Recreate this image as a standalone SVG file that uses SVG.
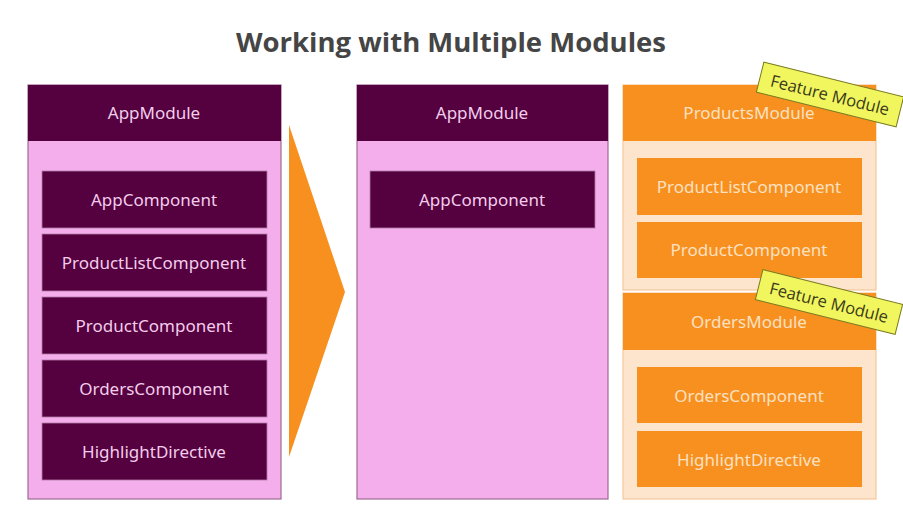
<svg xmlns="http://www.w3.org/2000/svg" width="903" height="508" viewBox="0 0 903 508">
<style>
.title{font-family:"Open Sans","DejaVu Sans",sans-serif;font-weight:700;font-size:27.5px;fill:#454545}
.panel{fill:#F4AEEC;stroke:#9C6A92;stroke-width:1.2}
.head{fill:#55003F}
.pbox{fill:#55003F;stroke:#B07AA6;stroke-width:0.8}
.ptxt{font-family:"Noto Sans","Open Sans",sans-serif;font-size:17px;fill:#F2CDEB;text-anchor:middle;dominant-baseline:central}
.fpanel{fill:#FCE4CD;stroke:#F5C89C;stroke-width:1.2}
.fhead{fill:#F7901E}
.obox{fill:#F7901E}
.otxt{font-family:"Noto Sans","Open Sans",sans-serif;font-size:17px;fill:#FCE0C2;text-anchor:middle;dominant-baseline:central}
.tag{fill:#F1F55E;stroke:#7A7A20;stroke-width:1}
.tagtxt{font-family:"Open Sans","DejaVu Sans",sans-serif;font-size:16.5px;fill:#3A3A1A;text-anchor:middle;dominant-baseline:central}
</style>
<rect width="903" height="508" fill="#FFFFFF"/>
<text class="title" x="451" y="52" text-anchor="middle">Working with Multiple Modules</text>

<g id="left-appmodule">
<rect class="panel" x="28" y="85" width="253" height="414"/>
<rect class="head" x="28" y="85" width="253" height="56"/>
<text class="ptxt" x="154" y="112">AppModule</text>
</g>
<g id="left-appcomponent"><rect class="pbox" x="42" y="171" width="225" height="57"/><text class="ptxt" x="154" y="199">AppComponent</text></g>
<g id="left-productlist"><rect class="pbox" x="42" y="234" width="225" height="57"/><text class="ptxt" x="154" y="262">ProductListComponent</text></g>
<g id="left-product"><rect class="pbox" x="42" y="297" width="225" height="57"/><text class="ptxt" x="154" y="325">ProductComponent</text></g>
<g id="left-orders"><rect class="pbox" x="42" y="360" width="225" height="57"/><text class="ptxt" x="154" y="388">OrdersComponent</text></g>
<g id="left-highlight"><rect class="pbox" x="42" y="423" width="225" height="57"/><text class="ptxt" x="154" y="451">HighlightDirective</text></g>

<g id="connectors">
<polygon points="289,125 345,292 289,457" fill="#F7901E"/>
</g>

<g id="mid-appmodule">
<rect class="panel" x="357" y="85" width="251" height="414"/>
<rect class="head" x="357" y="85" width="251" height="56"/>
<text class="ptxt" x="482" y="112">AppModule</text>
</g>
<g id="mid-appcomponent"><rect class="pbox" x="370" y="171" width="225" height="57"/><text class="ptxt" x="482" y="199">AppComponent</text></g>

<g id="productsmodule">
<rect class="fpanel" x="623" y="85" width="253" height="205"/>
<rect class="fhead" x="623" y="85" width="253" height="56"/>
<text class="otxt" x="749" y="112">ProductsModule</text>
</g>
<g id="productlistcomponent"><rect class="obox" x="637" y="158" width="225" height="57"/><text class="otxt" x="749" y="186">ProductListComponent</text></g>
<g id="productcomponent"><rect class="obox" x="637" y="222" width="225" height="56"/><text class="otxt" x="749" y="249">ProductComponent</text></g>

<g id="ordersmodule">
<rect class="fpanel" x="623" y="293" width="253" height="206"/>
<rect class="fhead" x="623" y="293" width="253" height="57"/>
<text class="otxt" x="749" y="321">OrdersModule</text>
</g>
<g id="orderscomponent"><rect class="obox" x="637" y="367" width="225" height="56"/><text class="otxt" x="749" y="395">OrdersComponent</text></g>
<g id="highlightdirective"><rect class="obox" x="637" y="431" width="225" height="56"/><text class="otxt" x="749" y="459">HighlightDirective</text></g>

<g id="tag-products" transform="translate(830,94.5) rotate(14)">
<rect class="tag" x="-72" y="-15.5" width="144" height="31"/>
<text class="tagtxt" x="0" y="0">Feature Module</text>
</g>
<g id="tag-orders" transform="translate(829,302) rotate(14)">
<rect class="tag" x="-72" y="-15.5" width="144" height="31"/>
<text class="tagtxt" x="0" y="0">Feature Module</text>
</g>
</svg>
